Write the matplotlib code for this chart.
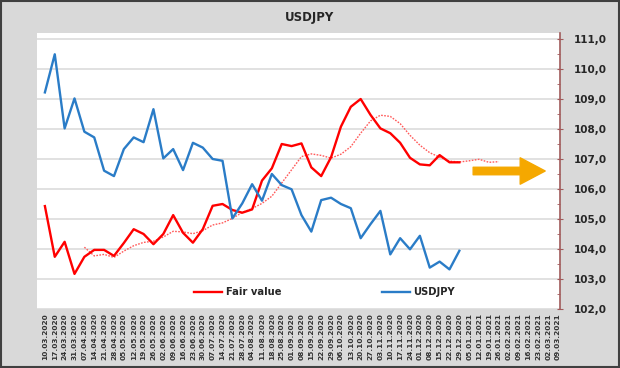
import matplotlib
matplotlib.use("Agg")
import matplotlib.pyplot as plt
from matplotlib.ticker import FuncFormatter, MultipleLocator
from matplotlib.patches import Rectangle

dates = ["10.03.2020", "17.03.2020", "24.03.2020", "31.03.2020", "07.04.2020", "14.04.2020",
         "21.04.2020", "28.04.2020", "05.05.2020", "12.05.2020", "19.05.2020", "26.05.2020",
         "02.06.2020", "09.06.2020", "16.06.2020", "23.06.2020", "30.06.2020", "07.07.2020",
         "14.07.2020", "21.07.2020", "28.07.2020", "04.08.2020", "11.08.2020", "18.08.2020",
         "25.08.2020", "01.09.2020", "08.09.2020", "15.09.2020", "22.09.2020", "29.09.2020",
         "06.10.2020", "13.10.2020", "20.10.2020", "27.10.2020", "03.11.2020", "10.11.2020",
         "17.11.2020", "24.11.2020", "01.12.2020", "08.12.2020", "15.12.2020", "22.12.2020",
         "29.12.2020", "05.01.2021", "12.01.2021", "19.01.2021", "26.01.2021", "02.02.2021",
         "09.02.2021", "16.02.2021", "23.02.2021", "02.03.2021", "09.03.2021"]

usdjpy = [109.22, 110.49, 108.02, 109.02, 107.91, 107.72, 106.61, 106.43, 107.33, 107.72,
          107.56, 108.66, 107.02, 107.33, 106.63, 107.54, 107.38, 107.0, 106.94, 105.02,
          105.52, 106.16, 105.61, 106.5, 106.13, 105.99, 105.13, 104.58, 105.63, 105.71,
          105.5, 105.36, 104.36, 104.83, 105.27, 103.82, 104.36, 103.99, 104.44, 103.38,
          103.58, 103.32, 103.94]

fair_value = [105.43, 103.74, 104.24, 103.17, 103.74, 103.97, 103.97, 103.77, 104.2, 104.66,
              104.5, 104.16, 104.5, 105.13, 104.54, 104.21, 104.66, 105.44, 105.5, 105.3,
              105.21, 105.32, 106.28, 106.69, 107.5, 107.43, 107.52, 106.72, 106.43, 107.06,
              108.08, 108.74, 109.0, 108.47, 108.02, 107.86, 107.54, 107.04, 106.82, 106.79,
              107.13, 106.89, 106.89]

fair_trend_start = 4
fair_trend = [104.06, 103.77, 103.82, 103.72, 103.93, 104.11, 104.22, 104.26, 104.4, 104.59,
              104.57, 104.51, 104.61, 104.8, 104.87, 105.02, 105.22, 105.35, 105.52, 105.76,
              106.2, 106.64, 107.08, 107.17, 107.12, 107.03, 107.16, 107.41, 107.86, 108.27,
              108.46, 108.42, 108.18, 107.79, 107.46, 107.21, 107.06, 106.93, 106.9, 106.94,
              106.99, 106.89, 106.91]

y_ticks = [102, 103, 104, 105, 106, 107, 108, 109, 110, 111]

fig = plt.figure(figsize=(6.2, 3.68), dpi=100, facecolor="#d9d9d9")
ax = fig.add_axes([37 / 620, 1 - 309 / 368, 523 / 620, 276 / 368])
ax.set_facecolor("white")

x_usd = list(range(len(usdjpy)))
x_fv = list(range(len(fair_value)))
x_tr = list(range(fair_trend_start, fair_trend_start + len(fair_trend)))

ax.plot(x_tr, fair_trend, color="#ff5a5a", lw=1.0, ls=(0, (1.2, 1.0)), zorder=3)
ax.plot(x_fv, fair_value, color="#ff0000", lw=1.7, label="Fair value", zorder=4)
ax.plot(x_usd, usdjpy, color="#2a7cc7", lw=1.7, label="USDJPY", zorder=4)

ax.annotate("", xy=(50.7, 106.6), xytext=(43.4, 106.6),
            arrowprops=dict(arrowstyle="simple,head_length=0.9,head_width=0.95,tail_width=0.27",
                            color="#f5a800", mutation_scale=20, shrinkA=0, shrinkB=0),
            zorder=5)

ax.set_xlim(-0.8, 52.2)
ax.set_ylim(102, 111.2)
ax.set_xticks(range(len(dates)))
ax.set_xticklabels(dates, rotation=90, fontsize=5.3, fontweight="bold", color="#333333")
ax.tick_params(axis="x", length=0, pad=3)

ax.yaxis.tick_right()
ax.set_yticks(y_ticks)
ax.yaxis.set_minor_locator(MultipleLocator(0.5))
ax.yaxis.set_major_formatter(FuncFormatter(lambda v, p: f"{v:.1f}".replace(".", ",")))
ax.tick_params(axis="y", which="major", direction="inout", length=4, color="#a05a5a",
               labelsize=7.5, labelcolor="#262626", pad=8)
ax.tick_params(axis="y", which="minor", direction="in", length=2.5, color="#a05a5a")
for lbl in ax.get_yticklabels():
    lbl.set_fontweight("bold")

ax.grid(axis="y", color="#dcdcdc", lw=1.2)
ax.set_axisbelow(True)
for s in ["left", "top", "bottom"]:
    ax.spines[s].set_visible(False)
ax.spines["right"].set_color("#a05a5a")
ax.spines["right"].set_linewidth(1.2)

leg = ax.legend(loc="lower center", bbox_to_anchor=(0.55, 0.01), ncol=2, frameon=False,
                handlelength=2.8, columnspacing=10.0, handletextpad=0.4,
                prop={"weight": "bold", "size": 7.2})
for t in leg.get_texts():
    t.set_color("#262626")

fig.text(0.5, 1 - 17 / 368, "USDJPY", ha="center", va="center", fontsize=8.5,
         fontweight="bold", color="#262626")

fig.patches.append(Rectangle((0.002, 0.003), 0.996, 0.994, transform=fig.transFigure,
                             fill=False, edgecolor="#404040", lw=1.5))

fig.savefig("out.png", dpi=100, facecolor=fig.get_facecolor())
